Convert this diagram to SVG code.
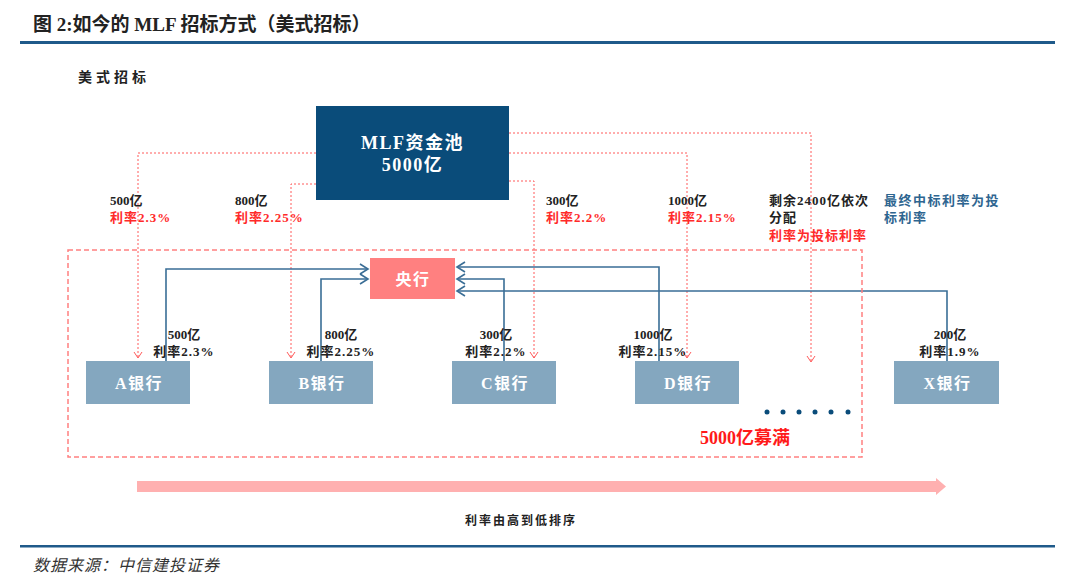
<svg xmlns="http://www.w3.org/2000/svg" width="1080" height="585" viewBox="0 0 1080 585">
<style>
.t{font-family:"Liberation Serif","Noto Sans CJK SC",serif;font-weight:bold}
.k{fill:#222;font-size:13px}
.r{fill:#ff2a2a;font-size:13px}
.b{fill:#2e6590;font-size:13px}
.w{fill:#fff;font-size:16px;letter-spacing:1.5px}
.sp{letter-spacing:1px}
.bank{fill:#84a7bf}
.red{fill:none;stroke:#ff5a5a;stroke-width:1;stroke-dasharray:2 2}
.blu{fill:none;stroke:#3a6e96;stroke-width:1.6}
</style>
<defs>
<marker id="ra" markerWidth="8" markerHeight="10" refX="7" refY="5" orient="auto" markerUnits="userSpaceOnUse" viewBox="0 0 8 10">
<path d="M1,1 L7,5 L1,9" fill="none" stroke="#ff5a5a" stroke-width="1"/>
</marker>
<marker id="ba" markerWidth="12" markerHeight="12" refX="10" refY="6" orient="auto" markerUnits="userSpaceOnUse" viewBox="0 0 12 12">
<path d="M2,1 L10,6 L2,11" fill="none" stroke="#3a6e96" stroke-width="1.6"/>
</marker>
</defs>
<rect width="1080" height="585" fill="#fff"/>
<text x="33" y="31" class="t" font-size="19" fill="#222">图 2:如今的 MLF 招标方式（美式招标）</text>
<rect x="20" y="41" width="1035" height="3" fill="#1f5a8a"/>
<text x="78" y="82" class="t" font-size="14" fill="#222" letter-spacing="4">美式招标</text>

<g id="connectors">
<path class="red" d="M316,153 H138 V358" marker-end="url(#ra)"/>
<path class="red" d="M316,184 H291 V358" marker-end="url(#ra)"/>
<path class="red" d="M509,181 H534 V358" marker-end="url(#ra)"/>
<path class="red" d="M509,153 H687 V358" marker-end="url(#ra)"/>
<path class="red" d="M509,133 H811 V362" marker-end="url(#ra)"/>
<path class="blu" d="M166,361 V269 H368" marker-end="url(#ba)"/>
<path class="blu" d="M321,361 V279 H368" marker-end="url(#ba)"/>
<path class="blu" d="M504,361 V279 H457" marker-end="url(#ba)"/>
<path class="blu" d="M659,361 V267 H457" marker-end="url(#ba)"/>
<path class="blu" d="M947,361 V291 H457" marker-end="url(#ba)"/>
</g>

<rect id="pool-frame" x="68" y="250" width="794" height="207" fill="none" stroke="#ff8080" stroke-width="1.5" stroke-dasharray="5 3"/>

<g id="mlf">
<rect x="316" y="106" width="193" height="94" fill="#0a4c7a"/>
<text x="412.5" y="149" class="t w" font-size="18" text-anchor="middle" style="font-size:18px">MLF资金池</text>
<text x="412.5" y="171" class="t w" text-anchor="middle" style="font-size:18px">5000亿</text>
</g>

<g id="labels-top">
<text x="110" y="205" class="t k">500亿</text>
<text x="110" y="222" class="t r sp">利率2.3%</text>
<text x="235" y="205" class="t k">800亿</text>
<text x="235" y="222" class="t r sp">利率2.25%</text>
<text x="546" y="205" class="t k">300亿</text>
<text x="546" y="222" class="t r sp">利率2.2%</text>
<text x="668" y="205" class="t k">1000亿</text>
<text x="668" y="222" class="t r sp">利率2.15%</text>
<text x="769" y="205" class="t k sp">剩余2400亿依次</text>
<text x="769" y="222" class="t k sp">分配</text>
<text x="769" y="240" class="t r sp">利率为投标利率</text>
<text x="884" y="205" class="t b" letter-spacing="1.5">最终中标利率为投</text>
<text x="884" y="222" class="t b" letter-spacing="1.5">标利率</text>
</g>

<g id="pboc">
<rect x="370" y="258" width="85" height="41" fill="#ff8080"/>
<text x="413" y="285" class="t w" text-anchor="middle">央行</text>
</g>

<g id="bankA">
<rect class="bank" x="86" y="361" width="104" height="43"/>
<text x="139" y="389" class="t w" text-anchor="middle">A银行</text>
</g>
<g id="bankB">
<rect class="bank" x="269" y="361" width="104" height="43"/>
<text x="322" y="389" class="t w" text-anchor="middle">B银行</text>
</g>
<g id="bankC">
<rect class="bank" x="452" y="361" width="104" height="43"/>
<text x="505" y="389" class="t w" text-anchor="middle">C银行</text>
</g>
<g id="bankD">
<rect class="bank" x="635" y="361" width="104" height="43"/>
<text x="688" y="389" class="t w" text-anchor="middle">D银行</text>
</g>
<g id="bankX">
<rect class="bank" x="894" y="361" width="105" height="43"/>
<text x="947.5" y="389" class="t w" text-anchor="middle">X银行</text>
</g>

<g id="labels-bank">
<text x="184" y="339" class="t k" text-anchor="middle">500亿</text>
<text x="184" y="356" class="t k sp" text-anchor="middle">利率2.3%</text>
<text x="341" y="339" class="t k" text-anchor="middle">800亿</text>
<text x="341" y="356" class="t k sp" text-anchor="middle">利率2.25%</text>
<text x="496" y="339" class="t k" text-anchor="middle">300亿</text>
<text x="496" y="356" class="t k sp" text-anchor="middle">利率2.2%</text>
<text x="653" y="339" class="t k" text-anchor="middle">1000亿</text>
<text x="653" y="356" class="t k sp" text-anchor="middle">利率2.15%</text>
<text x="950" y="339" class="t k" text-anchor="middle">200亿</text>
<text x="950" y="356" class="t k sp" text-anchor="middle">利率1.9%</text>
</g>

<g id="dots" fill="#0a4c7a">
<circle cx="767" cy="412" r="2.5"/>
<circle cx="783" cy="412" r="2.5"/>
<circle cx="799" cy="412" r="2.5"/>
<circle cx="815" cy="412" r="2.5"/>
<circle cx="831" cy="412" r="2.5"/>
<circle cx="848" cy="412" r="2.5"/>
</g>

<text x="745" y="444" class="t" font-size="18" fill="#ff1a1a" text-anchor="middle">5000亿募满</text>

<g id="rank-arrow">
<path d="M137,481 H936 V478 L946,486.5 L936,495 V492 H137 Z" fill="#ffb0b0"/>
</g>
<text x="521" y="525" class="t" font-size="12" fill="#222" text-anchor="middle" letter-spacing="2">利率由高到低排序</text>

<rect x="20" y="545" width="1035" height="2.5" fill="#1f5a8a"/>
<text x="33" y="571" font-family="Liberation Serif,'Noto Sans CJK SC',serif" font-style="italic" font-size="16" letter-spacing="1" fill="#333">数据来源：中信建投证券</text>
</svg>
